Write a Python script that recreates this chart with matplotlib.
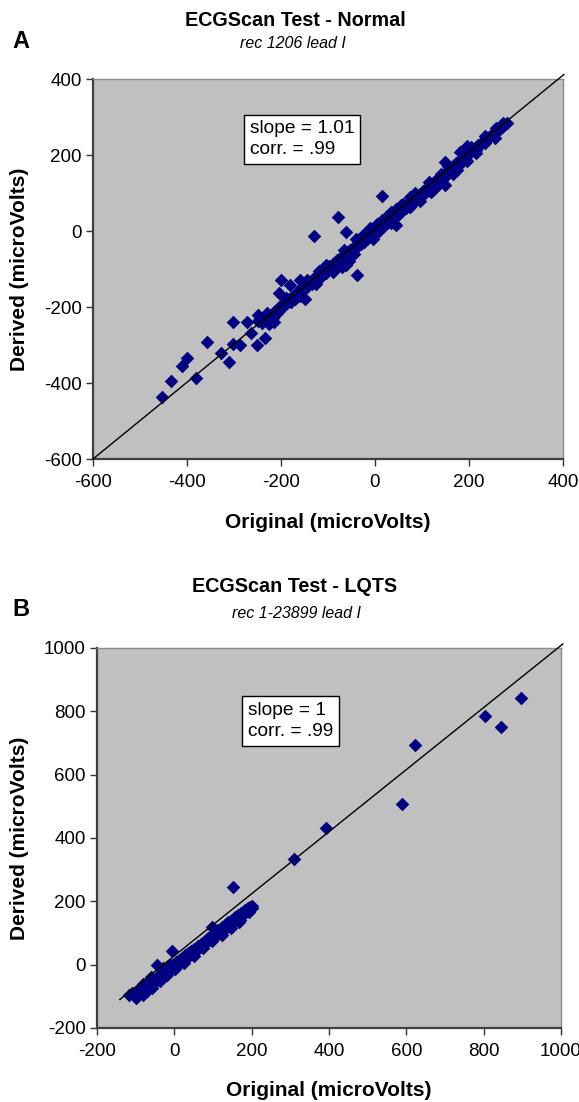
import matplotlib
matplotlib.use("Agg")
import matplotlib.pyplot as plt

plt.rcParams["font.family"] = ["Liberation Sans", "DejaVu Sans"]
plt.rcParams["axes.unicode_minus"] = False

# ---- panel A: rec 1206 lead I ----
a_x = [
    -454, -433, -410, -401, -380, -357, -327, -310, -303, -302, -288, -273, -263, -252,
    -248, -234, -224, -213, -204, -199, -181, -178, -160, -150, -130, -78, -62, -39,
    14, 45, 195, 174, 195, 149, 217, 181, 149,
    -248, -244, -240, -236, -232, -228, -225, -222, -218, -215, -211, -208, -205,
    -200, -197, -193, -190, -186, -182, -179, -175, -171, -168, -164, -160, -157, -153, -150,
    -147, -144, -140, -137, -134, -130, -127, -124, -120, -117, -114, -110, -107, -104, -100,
    -97, -94, -90, -87, -84, -80, -77, -74, -70, -67, -64, -60, -57, -54, -50, -62, -70, -55,
    -47, -44, -40, -37, -34, -30, -27, -24, -20, -17, -14, -10, -7, -4, 0, -20, -10,
    3, 6, 10, 13, 16, 20, 23, 26, 30, 33, 36, 40, 43, 46, 50, 25, 35,
    53, 56, 60, 63, 66, 70, 73, 76, 80, 83, 86, 90, 93, 96, 100, 60, 75,
    103, 106, 110, 113, 116, 120, 123, 126, 130, 133, 136, 140, 143, 146, 150, 120, 140,
    153, 156, 160, 163, 166, 170, 173, 176, 180, 183, 186, 190, 193, 196, 200,
    205, 210, 215, 220, 225, 230, 235, 240, 245, 250, 255, 260, 265, 270, 275, 280, 258, 272,
    -230, -190, -170, -145, -125, -105, -85, -65, -45, -25, -5, 15, 35, 55, 75, 95,
    115, 135, 155, 175, 195, 215, 235, 255, -215, -160, -120, -90, -40, 5, 45, 85,
    125, 165, 205,
]
a_y = [
    -438, -395, -354, -335, -388, -291, -320, -344, -240, -297, -300, -240, -269, -300,
    -221, -282, -238, -219, -162, -129, -142, -181, -129, -179, -12, 36, -3, -115,
    91, 15, 183, 170, 224, 122, 224, 208, 182,
    -236, -228, -243, -232, -225, -238, -246, -222, -230, -214, -218, -205, -210,
    -200, -196, -188, -192, -183, -178, -186, -172, -170, -162, -167, -158, -150, -155, -146,
    -140, -148, -136, -132, -139, -126, -122, -130, -118, -112, -120, -106, -102, -110, -98,
    -92, -100, -86, -84, -92, -76, -80, -70, -74, -62, -68, -56, -64, -50, -54, -90, -95, -80,
    -44, -48, -36, -40, -30, -34, -22, -28, -16, -20, -10, -14, -4, -8, 0, -5, 8,
    4, -2, 12, 8, 18, 14, 24, 20, 32, 26, 38, 34, 44, 40, 52, 40, 50,
    48, 58, 54, 66, 60, 72, 66, 80, 74, 86, 80, 92, 86, 98, 94, 70, 62,
    106, 100, 114, 108, 120, 114, 126, 120, 134, 128, 140, 134, 146, 140, 154, 102, 150,
    150, 158, 164, 158, 172, 166, 178, 172, 186, 180, 190, 196, 188, 202, 204,
    208, 214, 212, 226, 230, 236, 232, 246, 250, 254, 260, 264, 268, 275, 280, 285, 270, 284,
    -215, -175, -180, -128, -140, -90, -100, -50, -60, -10, -20, 28, 22, 68, 90, 80,
    130, 120, 170, 160, 210, 205, 250, 245, -240, -170, -105, -108, -22, 18, 58, 100,
    110, 150, 220,
]
a_fit = (1.01, 6)           # slope, intercept
a_fit_x = [-600, 402]

# ---- panel B: rec 1-23899 lead I ----
b_x = [
    897, 804, 845, 623, 590, 391, 310, 151, -5, -46, 97,
    -118, -105, -95, -82, -88, -75, -70, -65, -60, -55, -50, -46, -40, -36, -30, -26, -20,
    -16, -10, -6, 0, 4, 8, 12, 16, 20, 24, 28, 32, 36, 40, 44, 48, 52, 56, 60, 64, 68,
    72, 76, 80, 84, 88, 92, 96, 100, 104, 108, 112, 116, 120, 124, 128, 132, 136, 140,
    144, 148, 152, 156, 160, 164, 168, 172, 176, 180, 184, 188, 192, 196, 200, 190, 166,
    -30, -60, -80, 60, 40, 120, 150, -10,
    -110, -100, -90, -78, -68, -58, -48, -38, -28, -18, -8, 2, 14, 26, 38, 50,
    62, 74, 86, 98, 110, 122, 134, 146, 158, 170, 182, 194, 202,
]
b_y = [
    842, 786, 749, 693, 507, 432, 335, 244, 44, 0, 119,
    -96, -94, -88, -95, -78, -70, -82, -58, -66, -48, -56, -40, -36, -30, -38, -20, -22,
    -10, -16, 0, -6, 8, 2, 16, 10, 22, 18, 30, 24, 36, 32, 42, 40, 50, 46, 58, 54, 64,
    62, 72, 68, 80, 76, 88, 84, 96, 92, 102, 98, 110, 106, 118, 112, 126, 120, 134,
    128, 140, 134, 148, 142, 156, 150, 162, 158, 170, 164, 176, 172, 182, 184, 178, 136,
    -12, -40, -62, 48, 30, 96, 142, -2,
    -88, -104, -76, -90, -60, -74, -46, -52, -28, -34, -6, -14, 14, 6, 38, 28,
    60, 52, 84, 74, 108, 94, 128, 116, 152, 140, 174, 166, 178,
]
b_fit = (0.98, 28)
b_fit_x = [-141, 1005]

W, H = 579, 1102
fig = plt.figure(figsize=(W / 100, H / 100), dpi=100)


def px_box(left, top, right, bottom):
    return [left / W, 1 - bottom / H, (right - left) / W, (bottom - top) / H]


def draw_panel(ax, xs, ys, fit, fit_x, lim, ticks, box_text, box_pos):
    ax.set_facecolor("#c0c0c0")
    ax.scatter(xs, ys, marker="D", s=48, color="#000080", linewidths=0, zorder=3)
    slope, icpt = fit
    ax.plot(fit_x, [slope * v + icpt for v in fit_x], color="black", lw=1.0,
            zorder=4, clip_on=False)
    ax.set_xlim(lim[0])
    ax.set_ylim(lim[1])
    ax.set_xticks(ticks[0])
    ax.set_yticks(ticks[1])
    ax.tick_params(direction="out", length=5, width=1, color="#333333",
                   labelsize=13.5, labelcolor="black")
    ax.tick_params(axis="y", pad=3)
    ax.tick_params(axis="x", pad=6)
    for side in ("left", "bottom"):
        ax.spines[side].set_color("#404040")
        ax.spines[side].set_linewidth(1.6)
    for side in ("top", "right"):
        ax.spines[side].set_color("#8c8c8c")
        ax.spines[side].set_linewidth(1.0)
    ax.text(box_pos[0], box_pos[1], box_text, transform=ax.transAxes,
            ha="left", va="center", fontsize=13.8, linespacing=1.3, zorder=5,
            bbox=dict(boxstyle="square,pad=0.3", fc="white", ec="black", lw=1.0))


ax_a = fig.add_axes(px_box(93, 79, 563, 459))
draw_panel(ax_a, a_x, a_y, a_fit, a_fit_x,
           [(-600, 400), (-600, 400)],
           [range(-600, 401, 200), range(-600, 401, 200)],
           "slope = 1.01\ncorr. = .99", (0.334, 0.841))

ax_b = fig.add_axes(px_box(97, 648, 561, 1028))
draw_panel(ax_b, b_x, b_y, b_fit, b_fit_x,
           [(-200, 1000), (-200, 1000)],
           [range(-200, 1001, 200), range(-200, 1001, 200)],
           "slope = 1\ncorr. = .99", (0.325, 0.808))


def ftext(x, y, s, **kw):
    fig.text(x / W, 1 - y / H, s, **kw)


# titles and labels, panel A
ftext(295, 20, "ECGScan Test - Normal", ha="center", va="center",
      fontsize=14.2, fontweight="bold")
ftext(293, 44, "rec 1206 lead I", ha="center", va="center",
      fontsize=11.5, style="italic")
ftext(21, 42, "A", ha="center", va="center", fontsize=17, fontweight="bold")
ftext(328, 523, "Original (microVolts)", ha="center", va="center",
      fontsize=15, fontweight="bold")
ftext(20, 269, "Derived (microVolts)", ha="center", va="center",
      fontsize=15, fontweight="bold", rotation=90)

# titles and labels, panel B
ftext(295, 587, "ECGScan Test - LQTS", ha="center", va="center",
      fontsize=14.2, fontweight="bold")
ftext(297, 614, "rec 1-23899 lead I", ha="center", va="center",
      fontsize=11.5, style="italic")
ftext(21, 609, "B", ha="center", va="center", fontsize=17, fontweight="bold")
ftext(329, 1090, "Original (microVolts)", ha="center", va="center",
      fontsize=15, fontweight="bold")
ftext(20, 838, "Derived (microVolts)", ha="center", va="center",
      fontsize=15, fontweight="bold", rotation=90)

fig.savefig("out.png", dpi=100, facecolor="white")
